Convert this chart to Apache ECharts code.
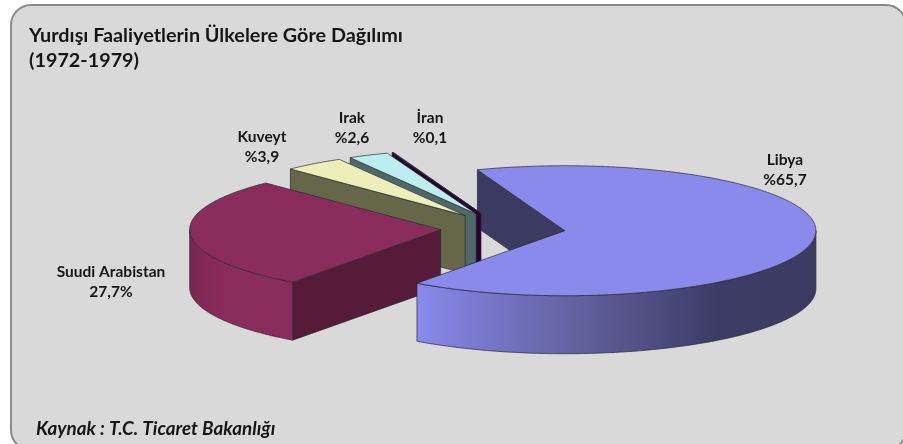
<!DOCTYPE html>
<html>
<head>
<meta charset="utf-8">
<style>html,body{margin:0;padding:0;background:#fff}#c{width:903px;height:444px}</style>
<script src="https://cdn.jsdelivr.net/npm/echarts@6/dist/echarts.min.js"></script>
</head>
<body>
<div id="c"></div>
<script>
// Data
const categories = ['Libya', 'Suudi Arabistan', 'Kuveyt', 'Irak', 'İran'];
const shares = [65.7, 27.7, 3.9, 2.6, 0.1];
const labelTexts = ['Libya\n%65,7', 'Suudi Arabistan\n27,7%', 'Kuveyt\n%3,9', 'Irak\n%2,6', 'İran\n%0,1'];
const titleText = 'Yurdışı Faaliyetlerin Ülkelere Göre Dağılımı\n(1972-1979)';
const sourceText = 'Kaynak : T.C. Ticaret Bakanlığı';

// Styles per slice
const topColors = ['#8A8AEC', '#8A2C5C', '#EEEEBB', '#BBEEEE', '#33003F'];
const innerColors = ['#3B3B62', '#561B38', '#666649', '#4F6868', '#2A0033'];
const labelAnchors = [[785, 170], [111, 282], [262, 147], [352, 128], [430, 128]];

// Projection of the tilted pie
const CX = 503, CY = 228.5, RX = 251, RY = 65, DEPTH = 58, EXPLODE = 62.5;
const START = -110.4 * Math.PI / 180;
const total = shares.reduce((a, b) => a + b, 0);

function sliceAngles(i) {
  let before = 0;
  for (let k = 0; k < i; k++) before += shares[k];
  return [START + before / total * 2 * Math.PI, START + (before + shares[i]) / total * 2 * Math.PI];
}
function rimPoints(c, a0, a1, dy) {
  const pts = [];
  const n = Math.max(2, Math.ceil((a1 - a0) / 0.02));
  for (let j = 0; j <= n; j++) {
    const a = a0 + (a1 - a0) * j / n;
    pts.push([c[0] + RX * Math.cos(a), c[1] + RY * Math.sin(a) + dy]);
  }
  return pts;
}
function wallPoly(p, q) {
  return [p, q, [q[0], q[1] + DEPTH], [p[0], p[1] + DEPTH]];
}
const stroke = { stroke: '#2a2a33', lineWidth: 0.7 };

function renderSlice(params, api) {
  const i = params.dataIndex;
  const value = api.value(0);
  const [a0, a1] = sliceAngles(i);
  const mid = (a0 + a1) / 2;
  const c = [CX + EXPLODE * Math.cos(mid), CY + EXPLODE * RY / RX * Math.sin(mid)];
  const z = { 4: 2, 3: 3, 2: 4, 1: 5, 0: 7 }[i];
  const kids = [];
  const poly = (points, fill, z2) => kids.push({
    type: 'polygon', shape: { points }, z2: z2,
    style: Object.assign({ fill: fill }, stroke)
  });
  const pStart = rimPoints(c, a0, a0, 0)[0];
  if (i === 0) {
    // inner wall of the large slice stays behind everything else
    poly(wallPoly(pStart, c), innerColors[i], 1);
  } else {
    // wall seen along the slice's near edge
    poly(wallPoly(pStart, c), innerColors[i], z);
  }
  // outer curved wall: only the part facing the viewer
  const w0 = Math.max(a0, 0), w1 = Math.min(a1, Math.PI);
  if (w1 > w0) {
    const up = rimPoints(c, w0, w1, 0);
    const down = rimPoints(c, w0, w1, DEPTH).reverse();
    const grad = i === 0
      ? new echarts.graphic.LinearGradient(0, 0, 1, 0, [
          { offset: 0, color: '#8A8AEC' }, { offset: 0.08, color: '#8080DC' },
          { offset: 0.4, color: '#62629F' }, { offset: 0.75, color: '#3C3C66' },
          { offset: 1, color: '#3B3B62' }])
      : new echarts.graphic.LinearGradient(0, 0, 1, 0, [
          { offset: 0, color: '#7A2752' }, { offset: 0.35, color: '#8A2C5C' },
          { offset: 1, color: '#8A2C5C' }]);
    poly(up.concat(down), grad, z);
  }
  // top face
  const topPts = rimPoints(c, a0, a1, 0);
  topPts.push(c);
  poly(topPts, topColors[i], z + 0.5);
  const anchor = labelAnchors[i];
  kids.push({
    type: 'text', x: anchor[0], y: anchor[1], z2: 20,
    style: {
      text: labelTexts[i], align: 'center', verticalAlign: 'middle',
      font: 'bold 15.5px Lato', lineHeight: 20, fill: '#161616'
    }
  });
  return { type: 'group', children: kids, info: value };
}

const chart = echarts.init(document.getElementById('c'), null, { renderer: 'canvas' });
chart.setOption({
  animation: false,
  backgroundColor: '#ffffff',
  graphic: [{
    type: 'rect', z: -1, silent: true,
    shape: { x: 11, y: 5, width: 895, height: 445, r: 20 },
    style: { fill: '#D9D9D9', stroke: '#8A8A8A', lineWidth: 2 }
  }],
  title: [{
    text: titleText, left: 24, top: 18,
    textStyle: { fontFamily: 'Lato', fontWeight: 'bold', fontSize: 19.8, lineHeight: 25, color: '#161616' }
  }, {
    text: sourceText, left: 31, top: 414,
    textStyle: { fontFamily: 'Lato', fontWeight: 'bold', fontStyle: 'italic', fontSize: 18.8, lineHeight: 20, color: '#161616' }
  }],
  series: [{
    type: 'custom',
    coordinateSystem: 'none',
    renderItem: renderSlice,
    encode: { value: 0, itemName: 1 },
    data: shares.map((v, i) => ({ name: categories[i], value: [v] })),
    silent: true
  }]
});
</script>
</body>
</html>
